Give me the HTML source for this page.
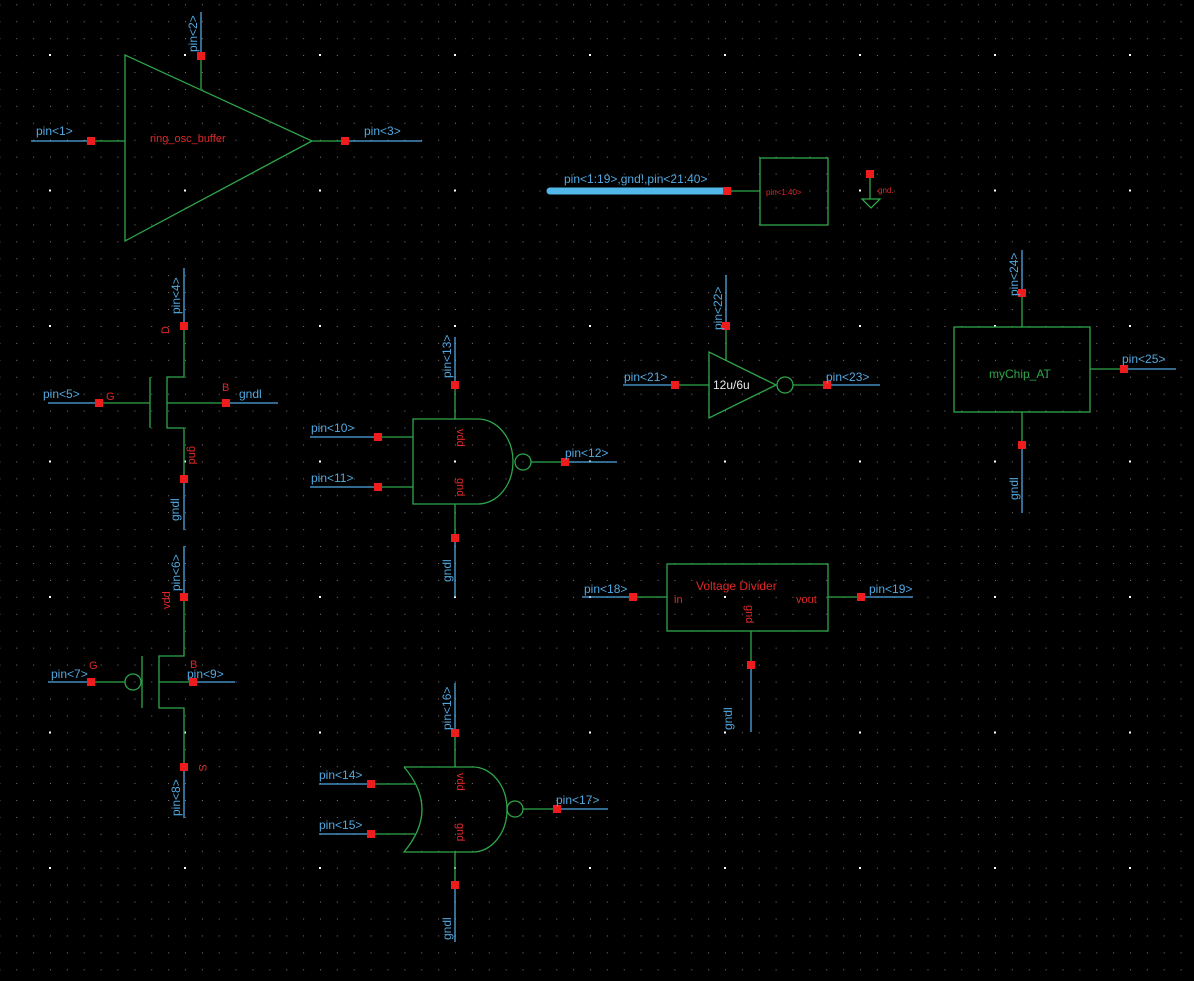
<!DOCTYPE html>
<html><head><meta charset="utf-8"><style>
html,body{margin:0;padding:0;background:#000;}
svg{display:block}
text{font-family:"Liberation Sans",sans-serif;}
.b{fill:#52a8e0;font-size:12px}
.r{fill:#e02828;font-size:11px}
</style></head><body>
<svg width="1194" height="981" viewBox="0 0 1194 981" xmlns="http://www.w3.org/2000/svg">
<defs>
<pattern id="g" x="16.25" y="4.3" width="16.875" height="16.93" patternUnits="userSpaceOnUse">
<rect x="0" y="0" width="1" height="1" fill="#7a7a7a"/>
</pattern>
</defs>
<rect width="1194" height="981" fill="#000"/>
<rect width="1194" height="981" fill="url(#g)"/>
<g fill="#fff">
<!-- big dots -->
<g id="row">
<rect x="49" y="54" width="2" height="2"/><rect x="184" y="54" width="2" height="2"/><rect x="319" y="54" width="2" height="2"/><rect x="454" y="54" width="2" height="2"/><rect x="589" y="54" width="2" height="2"/><rect x="724" y="54" width="2" height="2"/><rect x="859" y="54" width="2" height="2"/><rect x="994" y="54" width="2" height="2"/><rect x="1129" y="54" width="2" height="2"/>
</g>
<use href="#row" y="135.5"/><use href="#row" y="271"/><use href="#row" y="406.5"/><use href="#row" y="542"/><use href="#row" y="677.5"/><use href="#row" y="813"/>
</g>

<g fill="none" stroke-width="1.3">
<!-- Buffer -->
<g stroke="#2ea64a">
<polygon points="125,55 125,241 312,141"/>
<line x1="201" y1="56" x2="201" y2="89"/>
<line x1="91" y1="141" x2="125" y2="141"/>
<line x1="312" y1="141" x2="345" y2="141"/>
</g>
<g stroke="#52a8e0">
<line x1="201" y1="12" x2="201" y2="56"/>
<line x1="31" y1="141" x2="91" y2="141"/>
<line x1="345" y1="141" x2="422" y2="141"/>
</g>
<!-- bus -->
<line x1="550" y1="191" x2="727" y2="191" stroke="#52b8ea" stroke-width="7" stroke-linecap="round"/>
<g stroke="#2ea64a">
<line x1="727" y1="191" x2="760" y2="191"/>
<rect x="760" y="158" width="68" height="67"/>
<line x1="870" y1="174" x2="870" y2="199"/>
<polygon points="862,199 880,199 871,208"/>
</g>
<!-- NMOS -->
<g stroke="#2ea64a">
<polyline points="184,326 184,377 167,377 167,428 184,428 184,479"/>
<line x1="150" y1="377" x2="150" y2="428"/>
<line x1="99" y1="403" x2="150" y2="403"/>
<line x1="167" y1="403" x2="226" y2="403"/>
</g>
<g stroke="#52a8e0">
<line x1="184" y1="268" x2="184" y2="326"/>
<line x1="184" y1="479" x2="184" y2="530"/>
<line x1="48" y1="403" x2="99" y2="403"/>
<line x1="226" y1="403" x2="278" y2="403"/>
</g>
<!-- PMOS -->
<g stroke="#2ea64a">
<polyline points="184,597 184,656 159,656 159,708 184,708 184,767"/>
<line x1="142" y1="656" x2="142" y2="708"/>
<circle cx="133" cy="682" r="8"/>
<line x1="91" y1="682" x2="125" y2="682"/>
<line x1="159" y1="682" x2="193" y2="682"/>
</g>
<g stroke="#52a8e0">
<line x1="184" y1="546" x2="184" y2="597"/>
<line x1="184" y1="767" x2="184" y2="818"/>
<line x1="48" y1="682" x2="91" y2="682"/>
<line x1="193" y1="682" x2="235" y2="682"/>
</g>
<!-- NAND -->
<g stroke="#2ea64a">
<path d="M478,419 L413,419 L413,504 L478,504 A35,42.5 0 0 0 478,419"/>
<circle cx="523" cy="462" r="8"/>
<line x1="531" y1="462" x2="565" y2="462"/>
<line x1="455" y1="385" x2="455" y2="419"/>
<line x1="455" y1="504" x2="455" y2="538"/>
<line x1="378" y1="437" x2="413" y2="437"/>
<line x1="378" y1="487" x2="413" y2="487"/>
</g>
<g stroke="#52a8e0">
<line x1="565" y1="462" x2="617" y2="462"/>
<line x1="455" y1="337" x2="455" y2="385"/>
<line x1="455" y1="538" x2="455" y2="597"/>
<line x1="310" y1="437" x2="378" y2="437"/>
<line x1="310" y1="487" x2="378" y2="487"/>
</g>
<!-- Inverter -->
<g stroke="#2ea64a">
<polygon points="709,352 709,418 776,385"/>
<circle cx="785" cy="385" r="8"/>
<line x1="726" y1="326" x2="726" y2="361"/>
<line x1="675" y1="385" x2="709" y2="385"/>
<line x1="793" y1="385" x2="827" y2="385"/>
</g>
<g stroke="#52a8e0">
<line x1="726" y1="275" x2="726" y2="326"/>
<line x1="623" y1="385" x2="675" y2="385"/>
<line x1="827" y1="385" x2="880" y2="385"/>
</g>
<!-- myChip -->
<g stroke="#2ea64a">
<rect x="954" y="327" width="136" height="85"/>
<line x1="1022" y1="293" x2="1022" y2="327"/>
<line x1="1022" y1="412" x2="1022" y2="445"/>
<line x1="1090" y1="369" x2="1124" y2="369"/>
</g>
<g stroke="#52a8e0">
<line x1="1022" y1="250" x2="1022" y2="293"/>
<line x1="1022" y1="445" x2="1022" y2="513"/>
<line x1="1124" y1="369" x2="1176" y2="369"/>
</g>
<!-- Voltage divider -->
<g stroke="#2ea64a">
<rect x="667" y="564" width="161" height="67"/>
<line x1="633" y1="597" x2="667" y2="597"/>
<line x1="828" y1="597" x2="861" y2="597"/>
<line x1="751" y1="631" x2="751" y2="665"/>
</g>
<g stroke="#52a8e0">
<line x1="582" y1="597" x2="633" y2="597"/>
<line x1="861" y1="597" x2="913" y2="597"/>
<line x1="751" y1="665" x2="751" y2="732"/>
</g>
<!-- NOR -->
<g stroke="#2ea64a">
<path d="M404,767 L473,767 A34,42.5 0 0 1 473,852 L404,852 Q440,809 404,767"/>
<circle cx="515" cy="809" r="8"/>
<line x1="523" y1="809" x2="557" y2="809"/>
<line x1="455" y1="733" x2="455" y2="767"/>
<line x1="455" y1="852" x2="455" y2="885"/>
<line x1="371" y1="784" x2="415" y2="784"/>
<line x1="371" y1="834" x2="415" y2="834"/>
</g>
<g stroke="#52a8e0">
<line x1="557" y1="809" x2="608" y2="809"/>
<line x1="455" y1="683" x2="455" y2="733"/>
<line x1="455" y1="885" x2="455" y2="942"/>
<line x1="319" y1="784" x2="371" y2="784"/>
<line x1="319" y1="834" x2="371" y2="834"/>
</g>
</g>

<!-- red pin squares -->
<g fill="#ee1c1c">
<rect x="197" y="52" width="8" height="8"/><rect x="87" y="137" width="8" height="8"/><rect x="341" y="137" width="8" height="8"/>
<rect x="723" y="187" width="8" height="8"/><rect x="866" y="170" width="8" height="8"/>
<rect x="180" y="322" width="8" height="8"/><rect x="180" y="475" width="8" height="8"/><rect x="95" y="399" width="8" height="8"/><rect x="222" y="399" width="8" height="8"/>
<rect x="180" y="593" width="8" height="8"/><rect x="180" y="763" width="8" height="8"/><rect x="87" y="678" width="8" height="8"/><rect x="189" y="678" width="8" height="8"/>
<rect x="451" y="381" width="8" height="8"/><rect x="451" y="534" width="8" height="8"/><rect x="374" y="433" width="8" height="8"/><rect x="374" y="483" width="8" height="8"/><rect x="561" y="458" width="8" height="8"/>
<rect x="722" y="322" width="8" height="8"/><rect x="671" y="381" width="8" height="8"/><rect x="823" y="381" width="8" height="8"/>
<rect x="1018" y="289" width="8" height="8"/><rect x="1018" y="441" width="8" height="8"/><rect x="1120" y="365" width="8" height="8"/>
<rect x="629" y="593" width="8" height="8"/><rect x="857" y="593" width="8" height="8"/><rect x="747" y="661" width="8" height="8"/>
<rect x="451" y="729" width="8" height="8"/><rect x="451" y="881" width="8" height="8"/><rect x="367" y="780" width="8" height="8"/><rect x="367" y="830" width="8" height="8"/><rect x="553" y="805" width="8" height="8"/>
</g>

<!-- labels -->
<text class="b" x="36" y="135">pin&lt;1&gt;</text>
<text class="b" x="364" y="135">pin&lt;3&gt;</text>
<text class="b" transform="translate(197,52) rotate(-90)">pin&lt;2&gt;</text>
<text class="r" x="150" y="142" font-size="11">ring_osc_buffer</text>
<text class="b" x="564" y="183">pin&lt;1:19&gt;,gnd!,pin&lt;21:40&gt;</text>
<text class="r" x="766" y="195" style="font-size:8px">pin&lt;1:40&gt;</text>
<text class="r" x="878" y="193" style="font-size:8px">gnd.</text>

<text class="b" transform="translate(180,314) rotate(-90)">pin&lt;4&gt;</text>
<text class="r" transform="translate(169,334) rotate(-90)">D</text>
<text class="b" x="43" y="398">pin&lt;5&gt;</text>
<text class="r" x="106" y="400">G</text>
<text class="r" x="222" y="391">B</text>
<text class="b" x="239" y="398">gndl</text>
<text class="r" transform="translate(189,446) rotate(90)">gnd</text>
<text class="b" transform="translate(179,521) rotate(-90)">gndl</text>

<text class="b" transform="translate(180,591) rotate(-90)">pin&lt;6&gt;</text>
<text class="r" transform="translate(170,609) rotate(-90)">vdd</text>
<text class="b" x="51" y="678">pin&lt;7&gt;</text>
<text class="r" x="89" y="669">G</text>
<text class="r" x="190" y="668">B</text>
<text class="b" x="187" y="678">pin&lt;9&gt;</text>
<text class="r" transform="translate(199,764) rotate(90)">S</text>
<text class="b" transform="translate(180,816) rotate(-90)">pin&lt;8&gt;</text>

<text class="b" transform="translate(451,378) rotate(-90)">pin&lt;13&gt;</text>
<text class="b" x="311" y="432">pin&lt;10&gt;</text>
<text class="b" x="311" y="482">pin&lt;11&gt;</text>
<text class="b" x="565" y="457">pin&lt;12&gt;</text>
<text class="r" transform="translate(457,429) rotate(90)">vdd</text>
<text class="r" transform="translate(457,478) rotate(90)">gnd</text>
<text class="b" transform="translate(451,582) rotate(-90)">gndl</text>

<text class="b" transform="translate(722,330) rotate(-90)">pin&lt;22&gt;</text>
<text class="b" x="624" y="381">pin&lt;21&gt;</text>
<text x="713" y="389" fill="#e8e8e8" font-size="12">12u/6u</text>
<text class="b" x="826" y="381">pin&lt;23&gt;</text>

<text class="b" transform="translate(1018,296) rotate(-90)">pin&lt;24&gt;</text>
<text x="989" y="378" fill="#2ea64a" font-size="12">myChip_AT</text>
<text class="b" x="1122" y="363">pin&lt;25&gt;</text>
<text class="b" transform="translate(1018,500) rotate(-90)">gndl</text>

<text class="r" x="696" y="590" style="font-size:12px">Voltage Divider</text>
<text class="r" x="674" y="603">in</text>
<text class="r" x="796" y="603">vout</text>
<text class="r" transform="translate(746,605) rotate(90)">gnd</text>
<text class="b" x="584" y="593">pin&lt;18&gt;</text>
<text class="b" x="869" y="593">pin&lt;19&gt;</text>
<text class="b" transform="translate(755,721) rotate(-90) scale(1,-1) " style="display:none">x</text>
<text class="b" transform="translate(732,730) rotate(-90)">gndl</text>

<text class="b" transform="translate(451,730) rotate(-90)">pin&lt;16&gt;</text>
<text class="b" x="319" y="779">pin&lt;14&gt;</text>
<text class="b" x="319" y="829">pin&lt;15&gt;</text>
<text class="b" x="556" y="804">pin&lt;17&gt;</text>
<text class="r" transform="translate(457,773) rotate(90)">vdd</text>
<text class="r" transform="translate(457,823) rotate(90)">gnd</text>
<text class="b" transform="translate(451,940) rotate(-90)">gndl</text>
</svg>
</body></html>
